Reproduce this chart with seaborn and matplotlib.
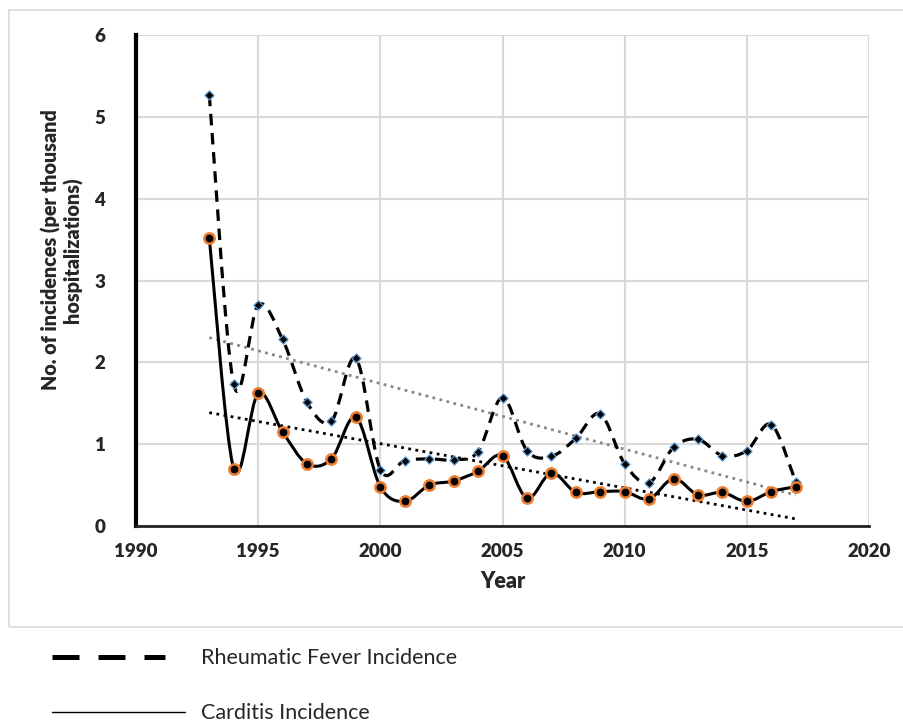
import numpy as np
import pandas as pd
import matplotlib
matplotlib.use("Agg")
import matplotlib.pyplot as plt
import seaborn as sns
from matplotlib.path import Path
from matplotlib.patches import PathPatch, Rectangle
from matplotlib.lines import Line2D

years = list(range(1993, 2018))
rheumatic = [5.27, 1.73, 2.70, 2.28, 1.51, 1.28, 2.05, 0.69, 0.80, 0.82, 0.81, 0.91, 1.57,
             0.92, 0.85, 1.07, 1.37, 0.76, 0.53, 0.96, 1.06, 0.86, 0.92, 1.24, 0.54]
carditis = [3.52, 0.70, 1.62, 1.15, 0.76, 0.82, 1.33, 0.48, 0.30, 0.50, 0.55, 0.67, 0.86,
            0.34, 0.65, 0.41, 0.42, 0.42, 0.33, 0.58, 0.38, 0.41, 0.30, 0.42, 0.48]
x_ticks = [1990, 1995, 2000, 2005, 2010, 2015, 2020]
y_ticks = [0, 1, 2, 3, 4, 5, 6]

df = pd.DataFrame({"Year": years, "Rheumatic": rheumatic, "Carditis": carditis})

sns.set_style("white")
plt.rcParams["font.family"] = ["Lato", "DejaVu Sans"]


def smooth_path(x, y):
    # excel-like smoothed line: cubic bezier segments through every point
    pts = np.column_stack([x, y]).astype(float)
    verts = [pts[0]]
    codes = [Path.MOVETO]
    n = len(pts)
    for i in range(n - 1):
        p0 = pts[i - 1] if i > 0 else pts[i]
        p1 = pts[i]
        p2 = pts[i + 1]
        p3 = pts[i + 2] if i + 2 < n else pts[i + 1]
        c1 = p1 + (p2 - p0) / 6.0
        c2 = p2 - (p3 - p1) / 6.0
        verts += [c1, c2, p2]
        codes += [Path.CURVE4] * 3
    return Path(verts, codes)


fig = plt.figure(figsize=(9.04, 7.23), dpi=100)
fig.add_artist(Rectangle((9 / 904, 1 - 627 / 723), 0.995, 617 / 723, transform=fig.transFigure,
                         facecolor="none", edgecolor="#d9d9d9", lw=1.2))
ax = fig.add_axes([136 / 904, 1 - 526 / 723, (869 - 136) / 904, (526 - 35) / 723])

# trendlines (linear fit)
for col, c in [("Rheumatic", "#888888"), ("Carditis", "black")]:
    k, b = np.polyfit(df["Year"], df[col], 1)
    xs = np.array([years[0], years[-1]])
    sns.lineplot(x=xs, y=k * xs + b, ax=ax, color=c, lw=2, linestyle=(0, (1, 1.6)), zorder=2)

ax.add_patch(PathPatch(smooth_path(df["Year"], df["Rheumatic"]), facecolor="none",
                       edgecolor="black", lw=2.3, linestyle=(0, (3.6, 2.4)), zorder=3))
ax.add_patch(PathPatch(smooth_path(df["Year"], df["Carditis"]), facecolor="none",
                       edgecolor="black", lw=2.2, zorder=3))

sns.scatterplot(data=df, x="Year", y="Rheumatic", ax=ax, marker="D", s=22, color="black",
                edgecolor="#5B9BD5", linewidth=0.9, zorder=4)
sns.scatterplot(data=df, x="Year", y="Carditis", ax=ax, marker="o", s=55, color="black",
                edgecolor="#ED7D31", linewidth=1.8, zorder=4)

ax.set_xlim(1990, 2020)
ax.set_ylim(0, 6)
ax.set_xticks(x_ticks)
ax.set_yticks(y_ticks)
ax.grid(True, color="#d9d9d9", lw=1.5)
ax.set_axisbelow(True)
for s in ["top", "right"]:
    ax.spines[s].set_visible(False)
ax.spines["left"].set_color("black")
ax.spines["left"].set_linewidth(3)
ax.spines["bottom"].set_color("#222222")
ax.spines["bottom"].set_linewidth(2)
ax.tick_params(axis="both", length=0, labelsize=13.5)
for lab in ax.get_xticklabels() + ax.get_yticklabels():
    lab.set_fontweight("heavy")
ax.tick_params(axis="x", pad=12)
ax.tick_params(axis="y", pad=22)
ax.set_xlabel("Year", fontsize=15.5, fontweight="heavy", labelpad=8)
ax.set_ylabel("No. of incidences (per thousand\nhospitalizations)", fontsize=14.2,
              fontweight="heavy", linespacing=1.15)
ax.yaxis.set_label_coords(-0.072, 0.562)

# legend below the chart box
fig.add_artist(Line2D([52 / 904, 165 / 904], [1 - 657 / 723] * 2, transform=fig.transFigure,
                      color="black", lw=3.6, linestyle=(0, (5.4, 3.8))))
fig.add_artist(Line2D([52 / 904, 185 / 904], [1 - 712 / 723] * 2, transform=fig.transFigure,
                      color="black", lw=1))
fig.text(201 / 904, 1 - 658 / 723, "Rheumatic Fever Incidence", fontsize=15.5, va="center")
fig.text(201 / 904, 1 - 713 / 723, "Carditis Incidence", fontsize=15.5, va="center")

fig.savefig("out.png", dpi=100)
